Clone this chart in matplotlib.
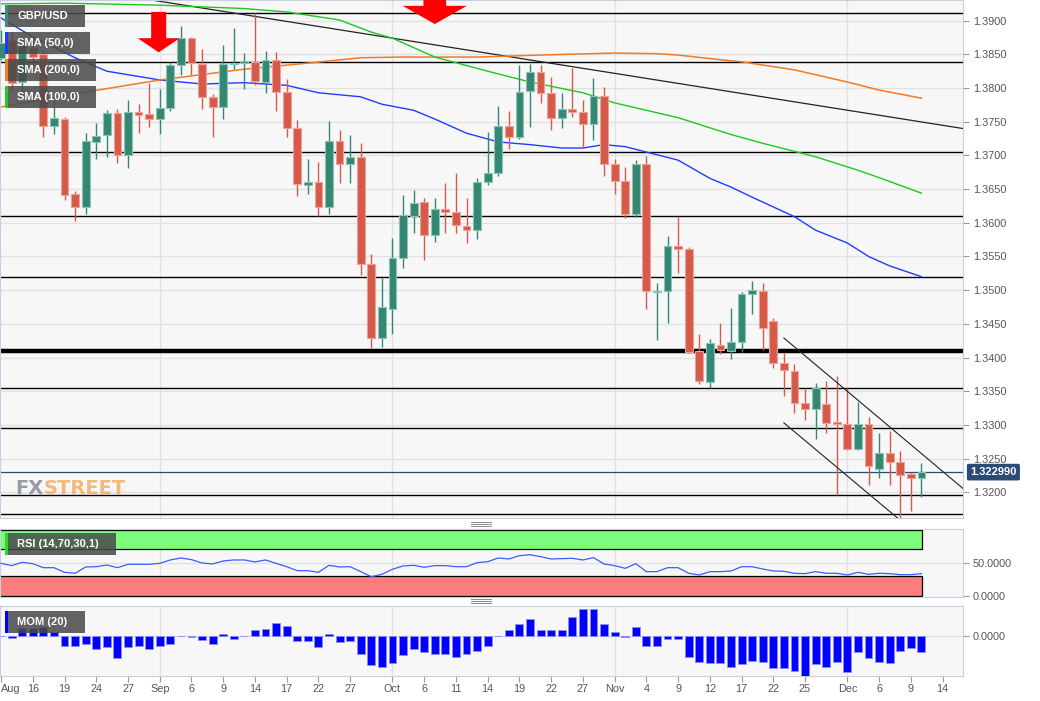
import numpy as np
import pandas as pd
import matplotlib
matplotlib.use("Agg")
import matplotlib.pyplot as plt
from matplotlib.patches import Rectangle, Polygon
from matplotlib.lines import Line2D
from matplotlib import font_manager

plt.rcParams['font.family'] = ['Liberation Sans', 'DejaVu Sans']

# trading days shown on the chart (last candle Dec 10, axis runs to Dec 14)
dates = pd.bdate_range("2021-08-11", "2021-12-10")
axis_days = pd.bdate_range("2021-08-11", "2021-12-14")

opens = [1.3845, 1.3871, 1.3809, 1.3860, 1.3851, 1.3744, 1.3754, 1.3643, 1.3623, 1.3720,
         1.3730, 1.3763, 1.3701, 1.3765, 1.3762, 1.3754, 1.3770, 1.3834, 1.3874, 1.3836,
         1.3787, 1.3772, 1.3836, 1.3837, 1.3839, 1.3809, 1.3842, 1.3794, 1.3741, 1.3656,
         1.3661, 1.3623, 1.3721, 1.3687, 1.3698, 1.3539, 1.3429, 1.3472, 1.3548, 1.3610,
         1.3631, 1.3582, 1.3621, 1.3616, 1.3595, 1.3589, 1.3661, 1.3674, 1.3744, 1.3727,
         1.3796, 1.3824, 1.3793, 1.3756, 1.3769, 1.3765, 1.3747, 1.3788, 1.3687, 1.3662,
         1.3613, 1.3687, 1.3497, 1.3499, 1.3566, 1.3561, 1.3410, 1.3364, 1.3419, 1.3410,
         1.3423, 1.3494, 1.3499, 1.3454, 1.3392, 1.3380, 1.3333, 1.3324, 1.3331, 1.3304,
         1.3301, 1.3264, 1.3301, 1.3235, 1.3258, 1.3245, 1.3227, 1.3221]
highs = [1.3886, 1.3883, 1.3876, 1.3877, 1.3857, 1.3782, 1.3757, 1.3647, 1.3733, 1.3748,
         1.3767, 1.3769, 1.3782, 1.3776, 1.3808, 1.3799, 1.3839, 1.3892, 1.3876, 1.3858,
         1.3791, 1.3864, 1.3889, 1.3852, 1.3911, 1.3855, 1.3854, 1.3813, 1.3753, 1.3695,
         1.3690, 1.3751, 1.3738, 1.3730, 1.3719, 1.3554, 1.3518, 1.3577, 1.3641, 1.3649,
         1.3637, 1.3637, 1.3659, 1.3674, 1.3637, 1.3667, 1.3735, 1.3773, 1.3766, 1.3834,
         1.3836, 1.3834, 1.3816, 1.3793, 1.3830, 1.3782, 1.3815, 1.3802, 1.3695, 1.3683,
         1.3693, 1.3699, 1.3511, 1.3580, 1.3609, 1.3564, 1.3435, 1.3428, 1.3451, 1.3474,
         1.3497, 1.3514, 1.3511, 1.3459, 1.3407, 1.3390, 1.3355, 1.3362, 1.3365, 1.3373,
         1.3355, 1.3334, 1.3312, 1.3288, 1.3291, 1.3261, 1.3230, 1.3244]
lows = [1.3842, 1.3797, 1.3793, 1.3834, 1.3727, 1.3732, 1.3634, 1.3603, 1.3613, 1.3695,
        1.3698, 1.3689, 1.3681, 1.3733, 1.3742, 1.3732, 1.3766, 1.3819, 1.3819, 1.3769,
        1.3727, 1.3754, 1.3828, 1.3799, 1.3805, 1.3793, 1.3766, 1.3727, 1.3640, 1.3643,
        1.3610, 1.3613, 1.3659, 1.3659, 1.3523, 1.3414, 1.3416, 1.3435, 1.3533, 1.3585,
        1.3545, 1.3572, 1.3585, 1.3585, 1.3570, 1.3576, 1.3656, 1.3670, 1.3710, 1.3724,
        1.3742, 1.3778, 1.3738, 1.3741, 1.3757, 1.3711, 1.3723, 1.3670, 1.3643, 1.3607,
        1.3609, 1.3472, 1.3426, 1.3451, 1.3526, 1.3407, 1.3361, 1.3355, 1.3405, 1.3398,
        1.3408, 1.3465, 1.3411, 1.3385, 1.3343, 1.3318, 1.3307, 1.3279, 1.3288, 1.3196,
        1.3263, 1.3263, 1.3211, 1.3221, 1.3211, 1.3162, 1.3172, 1.3193]
closes = [1.3867, 1.3808, 1.3864, 1.3846, 1.3744, 1.3756, 1.3641, 1.3623, 1.3721, 1.3729,
          1.3763, 1.3701, 1.3765, 1.3760, 1.3754, 1.3770, 1.3834, 1.3874, 1.3837, 1.3787,
          1.3772, 1.3836, 1.3837, 1.3840, 1.3811, 1.3842, 1.3794, 1.3741, 1.3658, 1.3661,
          1.3623, 1.3721, 1.3687, 1.3698, 1.3539, 1.3429, 1.3475, 1.3548, 1.3612, 1.3629,
          1.3582, 1.3621, 1.3616, 1.3597, 1.3589, 1.3661, 1.3674, 1.3744, 1.3727, 1.3794,
          1.3824, 1.3793, 1.3756, 1.3769, 1.3765, 1.3747, 1.3788, 1.3687, 1.3662, 1.3613,
          1.3687, 1.3499, 1.3499, 1.3566, 1.3561, 1.3408, 1.3365, 1.3422, 1.3411, 1.3423,
          1.3494, 1.3500, 1.3444, 1.3392, 1.3382, 1.3333, 1.3324, 1.3355, 1.3303, 1.3301,
          1.3264, 1.3301, 1.3239, 1.3258, 1.3245, 1.3226, 1.3221, 1.32299]
last_price = 1.322990

# moving averages, read at selected days (day index)
sma50_at = [0, 3, 7, 10, 15, 19, 23, 27, 30, 34, 36, 39, 41, 44, 47, 50, 53, 55, 57, 59,
            61, 64, 67, 69, 71, 75, 77, 80, 82, 84, 87]
sma50 = [1.3904, 1.3876, 1.3845, 1.3825, 1.3812, 1.3806, 1.3808, 1.3804, 1.3793, 1.3787,
         1.3776, 1.3767, 1.3754, 1.3733, 1.3720, 1.3716, 1.3711, 1.3711, 1.3716, 1.3713,
         1.3705, 1.3693, 1.3666, 1.3653, 1.3638, 1.3609, 1.3589, 1.3570, 1.3550, 1.3536, 1.3520]
sma200_at = [0, 8, 15, 23, 29, 34, 38, 45, 51, 58, 62, 64, 68, 70, 75, 80, 83, 87]
sma200 = [1.3772, 1.3794, 1.3812, 1.3828, 1.3837, 1.3845, 1.3846, 1.3846, 1.3849, 1.3852,
          1.3851, 1.3849, 1.3842, 1.3839, 1.3827, 1.3809, 1.3797, 1.3785]
sma100_at = [0, 6, 15, 23, 27, 32, 35, 37, 41, 46, 50, 55, 58, 64, 69, 72, 77, 81, 83, 87]
sma100 = [1.3925, 1.3926, 1.3923, 1.3918, 1.3913, 1.3901, 1.3883, 1.3874, 1.3846, 1.3825,
          1.3809, 1.3793, 1.3778, 1.3756, 1.3731, 1.3718, 1.3698, 1.3678, 1.3667, 1.3644]

# horizontal levels drawn on the chart
levels = [1.3912, 1.3838, 1.3705, 1.3610, 1.3519, 1.3355, 1.3295, 1.3196, 1.3167]
key_level = 1.3410
# long trend line and falling channel (day index, price)
trend_x, trend_y = [14.1, 90.9], [1.3931, 1.3740]
chan_up_x, chan_up_y = [74.0, 90.9], [1.3429, 1.3206]
chan_lo_x, chan_lo_y = [74.0, 84.8], [1.3303, 1.3161]

rsi = [49, 45.5, 50.6, 48.5, 42.4, 42.4, 35.4, 33.9, 43.5, 43.9,
       46.5, 42.4, 47.5, 47.5, 47.5, 49, 54.1, 57.1, 54.6, 49.5,
       48, 52.6, 54.1, 54.1, 51.1, 54.1, 49, 43.9, 37.9, 37.9,
       35.4, 46, 43.5, 43.9, 36.4, 28.8, 32.4, 40, 45, 46,
       43, 45.5, 45.5, 43.9, 43.9, 50, 51.5, 57.1, 55.6, 60.6,
       62.1, 59.1, 55.6, 56.1, 56.6, 54.1, 57.6, 48, 45.5, 41.4,
       48.5, 36.4, 36.4, 42.4, 42.4, 33.9, 31.3, 36.4, 36.4, 37.4,
       43.9, 43.9, 40.4, 37.4, 36.9, 33.9, 33.4, 36.4, 33.9, 33.9,
       31.3, 35.4, 32.4, 33.9, 33.4, 31.8, 31.8, 33.4]

mom = [0.0, -0.0023, 0.0077, 0.0077, 0.0083, 0.0033, -0.0107, -0.0107, -0.0080, -0.0130,
       -0.0117, -0.0220, -0.0117, -0.0107, -0.0137, -0.0100, -0.0080, 0.0, -0.0010, -0.0047,
       -0.0080, 0.0020, -0.0030, 0.0, 0.0053, 0.0070, 0.0127, 0.0097, -0.0057, -0.0057,
       -0.0117, 0.0017, -0.0067, -0.0057, -0.0183, -0.0290, -0.0307, -0.0273, -0.0190, -0.0133,
       -0.0163, -0.0183, -0.0183, -0.0210, -0.0183, -0.0157, -0.0103, 0.0, 0.0053, 0.0110,
       0.0167, 0.0053, 0.0053, 0.0053, 0.0187, 0.0260, 0.0260, 0.0117, 0.0040, -0.0013,
       0.0083, -0.0107, -0.0100, -0.0030, -0.0030, -0.0213, -0.0263, -0.0273, -0.0273, -0.0313,
       -0.0280, -0.0250, -0.0263, -0.0323, -0.0323, -0.0353, -0.0397, -0.0280, -0.0307, -0.0263,
       -0.0357, -0.0167, -0.0220, -0.0263, -0.0267, -0.0157, -0.0123, -0.0163]

tick_dates = ["2021-08-11", "2021-08-16", "2021-08-19", "2021-08-24", "2021-08-27",
              "2021-09-01", "2021-09-06", "2021-09-09", "2021-09-14", "2021-09-17",
              "2021-09-22", "2021-09-27", "2021-10-01", "2021-10-06", "2021-10-11",
              "2021-10-14", "2021-10-19", "2021-10-22", "2021-10-27", "2021-11-01",
              "2021-11-04", "2021-11-09", "2021-11-12", "2021-11-17", "2021-11-22",
              "2021-11-25", "2021-12-01", "2021-12-06", "2021-12-09", "2021-12-14"]
tick_labels = ["Aug", "16", "19", "24", "27", "Sep", "6", "9", "14", "17", "22", "27",
               "Oct", "6", "11", "14", "19", "22", "27", "Nov", "4", "9", "12", "17",
               "22", "25", "Dec", "6", "9", "14"]
month_starts = ["2021-09-01", "2021-10-01", "2021-11-01", "2021-12-01"]

GREEN, GREEN_EDGE = "#348773", "#8cc4b3"
RED, RED_EDGE = "#d65a4a", "#eea195"
GRID = "#e2e2e2"
SPINE = "#c8cfe0"
TXT = "#555555"

W, H = 1040, 701
fig = plt.figure(figsize=(W / 100, H / 100), dpi=100)
fig.patch.set_facecolor("white")


def px_axes(x0, y0, x1, y1):
    return fig.add_axes([x0 / W, 1 - y1 / H, (x1 - x0) / W, (y1 - y0) / H])


ax = px_axes(0, 0, 963, 518)
ax_rsi = px_axes(0, 529, 963, 597)
ax_mom = px_axes(0, 606, 963, 676)

x = np.arange(len(dates))
tick_pos = [axis_days.get_loc(pd.Timestamp(d)) for d in tick_dates]
month_pos = [axis_days.get_loc(pd.Timestamp(d)) for d in month_starts]
xlim = (-0.1, 90.93)

for a in (ax, ax_rsi, ax_mom):
    a.set_facecolor("#f7f7f7")
    a.set_xlim(*xlim)
    for s in a.spines.values():
        s.set_color(SPINE)
    a.yaxis.tick_right()
    a.tick_params(axis="y", length=4, color="#9a9a9a", labelsize=7.8,
                  labelcolor=TXT, pad=3)
    for m in month_pos:
        a.axvline(m, color=GRID, lw=1, zorder=0.5)
    a.set_axisbelow(True)

# ---- price panel ----
o, h, l, c = map(np.array, (opens, highs, lows, closes))
up = c >= o
col = np.where(up, GREEN, RED)
ecol = np.where(up, GREEN_EDGE, RED_EDGE)
body = np.maximum(np.abs(c - o), 0.00016)
bottom = np.minimum(o, c) - (body - np.abs(c - o)) / 2
ax.vlines(x, l, h, colors=col, lw=1.0, zorder=3)
ax.bar(x, body, bottom=bottom, width=0.74, color=col, edgecolor=ecol,
       linewidth=0.8, zorder=4)

ax.set_ylim(1.31618, 1.39307)
ax.set_yticks(np.arange(1.3200, 1.39001, 0.005))
ax.set_yticklabels([f"{v:.4f}" for v in np.arange(1.3200, 1.39001, 0.005)])
ax.grid(axis="y", color=GRID, lw=1)
ax.tick_params(axis="x", bottom=False, labelbottom=False)

for lv in levels:
    ax.axhline(lv, color="black", lw=1.0, zorder=2)
ax.axhline(key_level, color="black", lw=3.2, zorder=2)
ax.axhline(last_price, color="#2b4a78", lw=0.9, zorder=2)

ax.plot(trend_x, trend_y, color="#222222", lw=0.9, zorder=2)
ax.plot(chan_up_x, chan_up_y, color="#222222", lw=0.8, zorder=5)
ax.plot(chan_lo_x, chan_lo_y, color="#222222", lw=0.8, zorder=5)

ax.plot(sma50_at, sma50, color="#1f3dff", lw=1.0, zorder=2.5)
ax.plot(sma200_at, sma200, color="#f47a22", lw=1.1, zorder=2.5)
ax.plot(sma100_at, sma100, color="#1ec81e", lw=1.0, zorder=2.5)


def down_arrow(xc, top, base, tip, shaft_w, head_w):
    pts = [(xc - shaft_w / 2, top), (xc + shaft_w / 2, top), (xc + shaft_w / 2, base),
           (xc + head_w / 2, base), (xc, tip), (xc - head_w / 2, base),
           (xc - shaft_w / 2, base)]
    ax.add_patch(Polygon(pts, closed=True, fc="#ff0000", ec="none", zorder=6))


down_arrow(14.9, 1.3913, 1.3874, 1.3853, 1.42, 3.97)
down_arrow(41.0, 1.3960, 1.3922, 1.3895, 2.14, 6.05)

ax.text(1.0075, last_price, f"{last_price:.6f}", transform=ax.get_yaxis_transform(),
        ha="left", va="center", color="white", fontsize=8, fontweight="bold",
        clip_on=False, zorder=10,
        bbox=dict(boxstyle="round,pad=0.3,rounding_size=0.15", fc="#2b4a75", ec="none"))

# watermark
names = {f.name for f in font_manager.fontManager.ttflist}
wm_family = "Liberation Sans Narrow" if "Liberation Sans Narrow" in names else "DejaVu Sans"
wm_size = 21 if wm_family == "Liberation Sans Narrow" else 14
fx = ax.text(15 / 963, 20 / 518, "FX", transform=ax.transAxes, fontsize=wm_size,
             fontweight="bold", family=wm_family, color="#8e929b", alpha=0.9,
             va="bottom", ha="left", zorder=1)
ax.annotate("STREET", xy=(1, 0), xycoords=fx, fontsize=wm_size, fontweight="bold",
            family=wm_family, color="#f2b36b", alpha=0.9, va="bottom", ha="left",
            zorder=1)

# ---- RSI panel ----
ax_rsi.set_ylim(-2, 101)
ax_rsi.add_patch(Rectangle((-1, 70), 88.1, 30, fc="#7dfc7d", ec="black", lw=0.9, zorder=1))
ax_rsi.add_patch(Rectangle((-1, 0), 88.1, 30, fc="#fc7d7d", ec="black", lw=0.9, zorder=1))
ax_rsi.axhline(50, color=GRID, lw=1, zorder=0.5)
ax_rsi.plot(x, rsi, color="#3c5cff", lw=0.9, zorder=3)
ax_rsi.set_yticks([0, 50])
ax_rsi.set_yticklabels(["0.0000", "50.0000"])
ax_rsi.tick_params(axis="x", bottom=False, labelbottom=False)

# ---- Momentum panel ----
ax_mom.set_ylim(-0.0400, 0.0293)
ax_mom.axhline(0, color=GRID, lw=1, zorder=0.5)
ax_mom.bar(x, mom, width=0.75, color="#0000ff", edgecolor="#8c8cff", linewidth=0.6,
           zorder=3)
ax_mom.set_yticks([0])
ax_mom.set_yticklabels(["0.0000"])
ax_mom.set_xticks(tick_pos)
ax_mom.set_xticklabels(tick_labels)
ax_mom.tick_params(axis="x", length=4, color="#9a9a9a", labelsize=7.8,
                   labelcolor=TXT, pad=2)
ax_mom.get_xticklabels()[0].set_ha("left")


# ---- indicator name boxes ----
def label_box(x0, y0, w, h, text, stripe):
    fig.add_artist(Rectangle((x0 / W, 1 - (y0 + h) / H), w / W, h / H,
                             transform=fig.transFigure, fc="#4a4a4a", alpha=0.86,
                             ec="none", zorder=5))
    fig.add_artist(Rectangle((x0 / W, 1 - (y0 + h) / H), 3 / W, h / H,
                             transform=fig.transFigure, fc=stripe, ec="none", zorder=6))
    fig.text((x0 + 12) / W, 1 - (y0 + h / 2) / H, text, color="white", fontsize=8,
             fontweight="bold", va="center", ha="left", zorder=7)


label_box(5, 5, 80, 22, "GBP/USD", "#3d8c78")
label_box(5, 32, 85, 22, "SMA (50,0)", "#1a3cff")
label_box(5, 59, 91, 22, "SMA (200,0)", "#ff7a1a")
label_box(5, 86, 91, 22, "SMA (100,0)", "#22cc22")
label_box(5, 533, 111, 22, "RSI (14,70,30,1)", "#22dd22")
label_box(5, 611, 80, 22, "MOM (20)", "#0000ff")

# panel resize grips
for gy in (524, 601):
    for dy in (-2, 0, 2):
        fig.add_artist(Line2D([471 / W, 491 / W], [1 - (gy + dy) / H] * 2,
                              transform=fig.transFigure, color="#777777", lw=0.6))

fig.savefig("out.png", dpi=100)
